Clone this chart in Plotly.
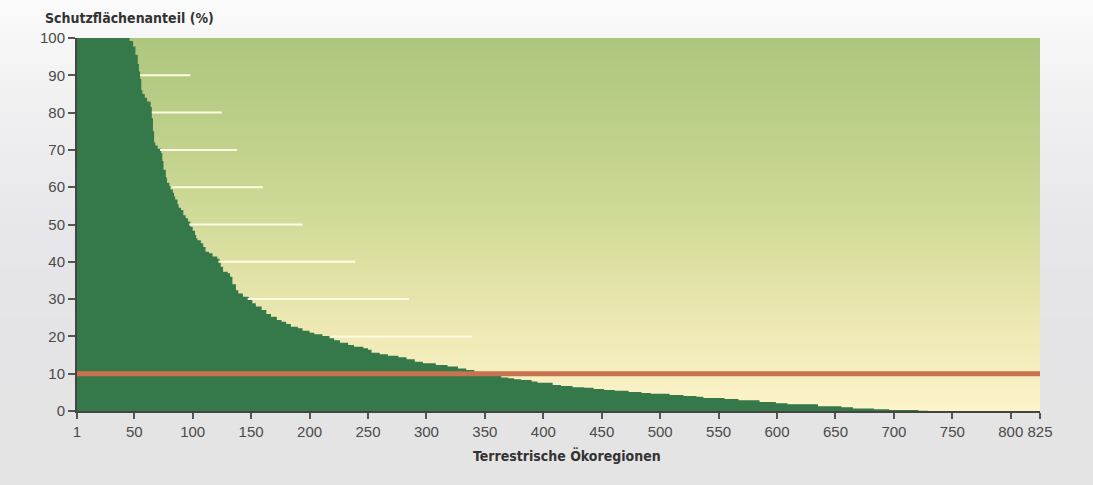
import plotly.graph_objects as go

# ---------------- data ----------------
# ecoregions ranked by protected-area share; runs of equal value: last rank of run, value (%)
seg_end = [45, 48, 50, 52, 53, 54, 55, 56, 58, 60, 63, 64, 65, 66, 67, 69, 72, 73, 74, 76,
           77, 79, 80, 82, 83, 84, 86, 87, 89, 91, 93, 95, 97, 99, 101, 102, 103, 106, 108, 110,
           113, 116, 120, 122, 123, 125, 129, 131, 133, 136, 138, 142, 147, 150, 153, 158, 162, 166, 171, 175,
           179, 183, 189, 193, 199, 203, 210, 216, 220, 225, 232, 237, 245, 249, 252, 259, 266, 275, 282, 289,
           296, 307, 317, 326, 333, 340, 346, 350, 363, 369, 374, 380, 389, 394, 407, 414, 424, 434, 442, 451,
           460, 472, 483, 491, 507, 519, 530, 536, 554, 566, 584, 598, 608, 634, 654, 664, 682, 695, 720, 728,
           825]
seg_val = [100, 99.2, 97.7, 95.5, 93, 91, 89, 86, 85, 84, 83, 81.5, 78.5, 75, 72, 71.2, 70.3, 69.2, 67, 64.7,
           62.6, 61.2, 60.3, 59.4, 58.5, 57.6, 56.7, 55.4, 54.5, 53.9, 52.5, 51.7, 50.8, 49.4, 48.3, 47.2, 46.3, 45.8, 45, 44,
           42.7, 42.3, 41.4, 40.8, 40, 38.7, 37.3, 36.9, 36, 34, 32.4, 31.5, 30.6, 30.2, 28.9, 28, 27.1, 26, 25.3, 24.4,
           23.9, 23.3, 22.6, 22.2, 21.5, 21, 20.6, 20.1, 19.5, 19, 18.3, 17.7, 17.2, 16.8, 16.4, 15.6, 15.2, 14.8, 14.4, 13.9,
           13.2, 12.8, 12.3, 11.9, 11.4, 11, 10.5, 10.3, 10.1, 9.0, 8.8, 8.5, 8.3, 7.9, 7.6, 7.0, 6.7, 6.4, 6.2, 5.9,
           5.6, 5.4, 5.1, 4.8, 4.6, 4.3, 4.0, 3.8, 3.5, 3.2, 2.9, 2.4, 2.1, 1.8, 1.3, 1.0, 0.7, 0.45, 0.27, 0.1,
           0]

target_pct = 10          # orange target line
n_regions = 825

# white marker lines: level, first rank, last rank
mark_levels = [90, 80, 70, 60, 50, 40, 30, 20]
mark_start = [55, 65, 72, 82, 97, 122, 147, 218]
mark_end = [98, 125, 138, 160, 194, 239, 285, 339]

x_ticks = [1, 50, 100, 150, 200, 250, 300, 350, 400, 450, 500, 550, 600, 650, 700, 750, 800, 825]
y_ticks = [0, 10, 20, 30, 40, 50, 60, 70, 80, 90, 100]

# expand runs to one value per ecoregion
ranks, values = [], []
prev = 0
for e, v in zip(seg_end, seg_val):
    for r in range(prev + 1, e + 1):
        ranks.append(r)
        values.append(v)
    prev = e

# ---------------- style helpers ----------------
def hex2rgb(h):
    h = h.lstrip('#')
    return tuple(int(h[i:i + 2], 16) for i in (0, 2, 4))

def interp(stops, t):
    for (t0, c0), (t1, c1) in zip(stops[:-1], stops[1:]):
        if t0 <= t <= t1:
            f = 0 if t1 == t0 else (t - t0) / (t1 - t0)
            a, b = hex2rgb(c0), hex2rgb(c1)
            return 'rgb(%d,%d,%d)' % tuple(round(a[i] + (b[i] - a[i]) * f) for i in range(3))
    return stops[-1][1]

plot_stops = [(0.0, '#fdf4c9'), (0.1, '#f6eebf'), (0.25, '#ebe7b1'), (0.4, '#dde0a3'),
              (0.55, '#cdd996'), (0.75, '#bdd08a'), (1.0, '#adc67e')]
page_stops = [(0.0, '#fbfbfb'), (0.2, '#f1f1f2'), (0.5, '#e6e6ea'), (0.7, '#e4e4e6'), (1.0, '#e4e4e4')]

shapes = []
# page gradient (paper coords; plot area is 963x373 px, margins l77 r53 t38 b74)
top_p, bot_p = 1 + 38 / 373, -74 / 373
M = 60
for i in range(M):
    t = (i + 0.5) / M  # 0 = top of page
    y1 = top_p - (top_p - bot_p) * i / M + 0.003
    y0 = top_p - (top_p - bot_p) * (i + 1) / M - 0.003
    shapes.append(dict(type='rect', xref='paper', yref='paper', x0=-0.1, x1=1.1,
                       y0=y0, y1=y1, line=dict(width=0),
                       fillcolor=interp(page_stops, t), layer='below'))

# plot-area gradient (drawn after the page gradient)
N = 120
for i in range(N):
    t = (i + 0.5) / N
    shapes.append(dict(type='rect', xref='paper', yref='paper', x0=0, x1=1,
                       y0=i / N, y1=min(1.0, (i + 1) / N + 0.002), line=dict(width=0),
                       fillcolor=interp(plot_stops, t), layer='below'))

fig = go.Figure()

fig.add_trace(go.Scatter(x=ranks, y=values, mode='lines', line=dict(width=0, shape='hv', color='#35784a'),
                         fill='tozeroy', fillcolor='#35784a', hoverinfo='skip', showlegend=False))

mx, my = [], []
for lv, s, e in zip(mark_levels, mark_start, mark_end):
    mx += [s, e, None]
    my += [lv, lv, None]
fig.add_trace(go.Scatter(x=mx, y=my, mode='lines', line=dict(width=2, color='#fffbe2'),
                         hoverinfo='skip', showlegend=False))

fig.add_trace(go.Scatter(x=[1, n_regions], y=[target_pct, target_pct], mode='lines',
                         line=dict(width=5, color='#c8734f'), cliponaxis=False,
                         hoverinfo='skip', showlegend=False))

cond = 'Liberation Sans Narrow, DejaVu Sans Condensed, Arial Narrow, sans-serif'
fig.update_layout(
    width=1093, height=485,
    margin=dict(l=77, r=53, t=38, b=74),
    paper_bgcolor='#e4e4e4', plot_bgcolor='rgba(0,0,0,0)',
    shapes=shapes,
    showlegend=False,
    font=dict(family='Liberation Sans, Arial, sans-serif', size=15, color='#4a4a4a'),
    xaxis=dict(range=[1, n_regions], tickvals=x_ticks, ticktext=[str(v) for v in x_ticks],
               showgrid=False, zeroline=False, showline=True, linecolor='#444', linewidth=2,
               ticks='outside', ticklen=6, tickwidth=2, tickcolor='#555'),
    yaxis=dict(range=[0, 100], tickvals=y_ticks, showgrid=False, zeroline=False,
               showline=True, linecolor='#444', linewidth=2,
               ticks='outside', ticklen=7, tickwidth=2, tickcolor='#555'),
    annotations=[
        dict(text='<b>Schutzflächenanteil (%)</b>', xref='paper', yref='paper',
             x=-34 / 963, y=1 + 20 / 373, xanchor='left', yanchor='middle', showarrow=False,
             font=dict(family=cond, size=14, color='#333')),
        dict(text='<b>Terrestrische Ökoregionen</b>', xref='paper', yref='paper',
             x=(567 - 77) / 963, y=-44 / 373, xanchor='center', yanchor='middle', showarrow=False,
             font=dict(family=cond, size=14, color='#333')),
    ],
)

fig.write_html('out.html', config={'displayModeBar': False},
               post_script="document.body.style.margin='0';document.body.style.padding='0';")
